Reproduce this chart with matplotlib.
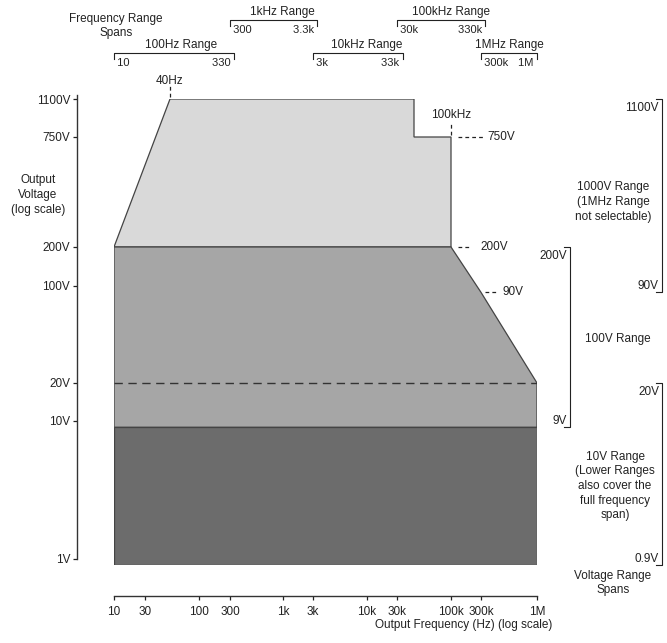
import numpy as np
import matplotlib

matplotlib.use("Agg")
import matplotlib.pyplot as plt
import matplotlib.transforms as mtransforms
from matplotlib.lines import Line2D

# --- data -----------------------------------------------------------------
FREQ_TICKS = [10, 30, 100, 300, 1e3, 3e3, 1e4, 3e4, 1e5, 3e5, 1e6]
FREQ_TICK_LABELS = ["10", "30", "100", "300", "1k", "3k", "10k", "30k",
                    "100k", "300k", "1M"]
VOLT_TICKS = [1, 10, 20, 100, 200, 750, 1100]
VOLT_TICK_LABELS = ["1V", "10V", "20V", "100V", "200V", "750V", "1100V"]

# 1000V range envelope (light), 100V range (medium), lower ranges (dark)
LIGHT_F = [10, 40, 40e3, 40e3, 100e3, 100e3]
LIGHT_V = [200, 1100, 1100, 750, 750, 200]
MID_F = [10, 10, 100e3, 300e3, 1e6, 1e6]
MID_V = [9, 200, 200, 90, 20, 9]
DARK_F = [10, 10, 1e6, 1e6]
DARK_V = [0.9, 9, 9, 0.9]
DASH_V = 20

FREQ_RANGE_NAMES = ["100Hz Range", "1kHz Range", "10kHz Range",
                    "100kHz Range", "1MHz Range"]
FREQ_RANGE_LO = [10, 300, 3e3, 30e3, 300e3]
FREQ_RANGE_HI = [330, 3.3e3, 33e3, 330e3, 1e6]
FREQ_RANGE_LO_LABELS = ["10", "300", "3k", "30k", "300k"]
FREQ_RANGE_HI_LABELS = ["330", "3.3k", "33k", "330k", "1M"]

VOLT_RANGE_NAMES = ["1000V Range\n(1MHz Range\nnot selectable)",
                    "100V Range",
                    "10V Range\n(Lower Ranges\nalso cover the\nfull frequency\nspan)"]
VOLT_RANGE_LO = [90, 9, 0.9]
VOLT_RANGE_HI = [1100, 200, 20]
VOLT_RANGE_LO_LABELS = ["90V", "9V", "0.9V"]
VOLT_RANGE_HI_LABELS = ["1100V", "200V", "20V"]

# --- layout (pixels from top-left of a 667x643 canvas) ---------------------
W, H = 667, 643
PT = 72 / 100  # points per pixel at dpi 100
INK = "#222222"
EDGE = "#444444"
LIGHT, MID, DARK = "#d9d9d9", "#a6a6a6", "#6c6c6c"

# the printed axes are hand-drawn "log" scales; warp knots in decade units
X_WARP_F = [10, 30, 40, 100, 300, 1e3, 3e3, 1e4, 3e4, 4e4, 1e5, 3e5, 1e6]
X_WARP_PX = [114, 145, 170, 199, 230, 283, 313, 367, 397, 414, 451, 481, 537]
Y_WARP_V = [1, 10, 20, 100, 200, 750, 1100]
Y_WARP_PX = [559, 421, 383, 286, 247, 137, 99]


def make_warp(knots, units):
    kx = np.log10(np.asarray(knots, float))
    ku = np.asarray(units, float)
    lo = (ku[1] - ku[0]) / (kx[1] - kx[0])
    hi = (ku[-1] - ku[-2]) / (kx[-1] - kx[-2])

    def fwd(v):
        x = np.log10(np.clip(np.asarray(v, float), 1e-12, None))
        u = np.interp(x, kx, ku)
        u = np.where(x < kx[0], ku[0] + (x - kx[0]) * lo, u)
        return np.where(x > kx[-1], ku[-1] + (x - kx[-1]) * hi, u)

    def inv(u):
        u = np.asarray(u, float)
        x = np.interp(u, ku, kx)
        x = np.where(u < ku[0], kx[0] + (u - ku[0]) / lo, x)
        x = np.where(u > ku[-1], kx[-1] + (u - ku[-1]) / hi, x)
        return 10.0 ** x

    return fwd, inv


def fx(px):
    return px / W


def fy(px):
    return 1 - px / H


plt.rcParams.update({
    "font.family": ["Liberation Sans", "DejaVu Sans"],
    "font.size": 8.5,
    "text.color": INK,
    "xtick.color": INK,
    "ytick.color": INK,
})

fig = plt.figure(figsize=(W / 100, H / 100), dpi=100)
y_bot_px = 565.3
ax = fig.add_axes([fx(114), fy(y_bot_px), (537 - 114) / W, (y_bot_px - 99) / H])
ax.set_xscale("function", functions=make_warp(X_WARP_F, np.subtract(X_WARP_PX, 114) / 84.6))
ax.set_yscale("function", functions=make_warp(Y_WARP_V, (559 - np.asarray(Y_WARP_PX)) / 138.0))
ax.set_xlim(10, 1e6)
ax.set_ylim(0.9, 1100)

ax.fill(LIGHT_F, LIGHT_V, facecolor=LIGHT, edgecolor=EDGE, lw=0.9, zorder=2)
ax.fill(MID_F, MID_V, facecolor=MID, edgecolor=EDGE, lw=0.9, zorder=3)
ax.fill(DARK_F, DARK_V, facecolor=DARK, edgecolor=EDGE, lw=0.9, zorder=4)
ax.plot([MID_F[0], MID_F[-1]], [DASH_V, DASH_V], color="#333333", lw=1.0,
        ls=(0, (6, 4)), zorder=5)

for s in ("top", "right"):
    ax.spines[s].set_visible(False)
ax.spines["left"].set_position(("outward", 37 * PT))
ax.spines["left"].set_bounds(1, 1150)
ax.spines["bottom"].set_position(("outward", 31 * PT))
ax.spines["bottom"].set_bounds(10, 1e6)
for s in ("left", "bottom"):
    ax.spines[s].set_color("#333333")
    ax.spines[s].set_linewidth(1.0)
ax.set_xticks(FREQ_TICKS, FREQ_TICK_LABELS)
ax.set_yticks(VOLT_TICKS, VOLT_TICK_LABELS)
ax.minorticks_off()
ax.tick_params(axis="x", direction="out", length=3, width=0.9, pad=4)
ax.tick_params(axis="y", direction="out", length=3, width=0.9, pad=2)

fig.text(fx(552), fy(625), "Output Frequency (Hz) (log scale)", ha="right", va="center")
fig.text(fx(38), fy(195), "Output\nVoltage\n(log scale)", ha="center", va="center",
         linespacing=1.35)
fig.text(fx(116), fy(26), "Frequency Range\nSpans", ha="center", va="center",
         linespacing=1.3)
fig.text(fx(613), fy(583), "Voltage Range\nSpans", ha="center", va="center",
         linespacing=1.3)

# frequency range brackets along the top (x in data, y in figure)
top = mtransforms.blended_transform_factory(ax.transData, fig.transFigure)
row_line = [53, 20]
for i, name in enumerate(FREQ_RANGE_NAMES):
    ly = row_line[i % 2]
    lo, hi = FREQ_RANGE_LO[i], FREQ_RANGE_HI[i]
    ax.plot([lo, lo, hi, hi], [fy(ly + 6), fy(ly), fy(ly), fy(ly + 6)],
            transform=top, color=INK, lw=0.8, clip_on=False)
    mid = np.sqrt(lo * hi)
    ax.text(mid, fy(ly - 8), name, transform=top, ha="center", va="center")
    ax.text(lo, fy(ly + 10), " " + FREQ_RANGE_LO_LABELS[i], transform=top,
            ha="left", va="center", fontsize=8)
    ax.text(hi, fy(ly + 10), FREQ_RANGE_HI_LABELS[i] + " ", transform=top,
            ha="right", va="center", fontsize=8)

# voltage range brackets on the right (x in figure, y in data)
side = mtransforms.blended_transform_factory(fig.transFigure, ax.transData)
brk_x = [662, 570, 662]
txt_xy = [(613, 202), (618, 339), (615, 486)]
for i, name in enumerate(VOLT_RANGE_NAMES):
    bx = brk_x[i]
    lo, hi = VOLT_RANGE_LO[i], VOLT_RANGE_HI[i]
    ax.plot([fx(bx - 6), fx(bx), fx(bx), fx(bx - 6)], [hi, hi, lo, lo],
            transform=side, color=INK, lw=0.8, clip_on=False)
    ax.annotate(VOLT_RANGE_HI_LABELS[i], xy=(fx(bx - 1), hi), xycoords=side,
                xytext=(-2, -3), textcoords="offset pixels", ha="right", va="top")
    ax.annotate(VOLT_RANGE_LO_LABELS[i], xy=(fx(bx - 1), lo), xycoords=side,
                xytext=(-2, 0), textcoords="offset pixels", ha="right", va="bottom")
    fig.text(fx(txt_xy[i][0]), fy(txt_xy[i][1]), name, ha="center", va="center",
             linespacing=1.3)

# small callouts at the envelope corners (offsets in pixels from the corner)
pix = mtransforms.IdentityTransform()


def corner(f, v):
    return ax.transData.transform((f, v))


def hdash(f, v, d0, d1, tx, label):
    x, y = corner(f, v)
    fig.add_artist(Line2D([x + d0, x + d1], [y, y], transform=pix, color=INK,
                          lw=0.9, ls=(0, (3, 2.5))))
    fig.text(x + tx, y, label, transform=pix, ha="left", va="center")


def vdash(f, v, d0, d1, ty, label):
    x, y = corner(f, v)
    fig.add_artist(Line2D([x, x], [y + d0, y + d1], transform=pix, color=INK,
                          lw=0.9, ls=(0, (3, 2.5))))
    fig.text(x, y + ty, label, transform=pix, ha="center", va="center")


vdash(LIGHT_F[1], LIGHT_V[1], 2, 13, 18, "40Hz")
vdash(LIGHT_F[4], LIGHT_V[4], 2, 14, 22, "100kHz")
hdash(LIGHT_F[4], LIGHT_V[4], 7, 32, 36, "750V")
hdash(MID_F[2], MID_V[2], 7, 19, 29, "200V")
hdash(MID_F[3], MID_V[3], 4, 16, 21, "90V")

fig.savefig("out.png", dpi=100)
